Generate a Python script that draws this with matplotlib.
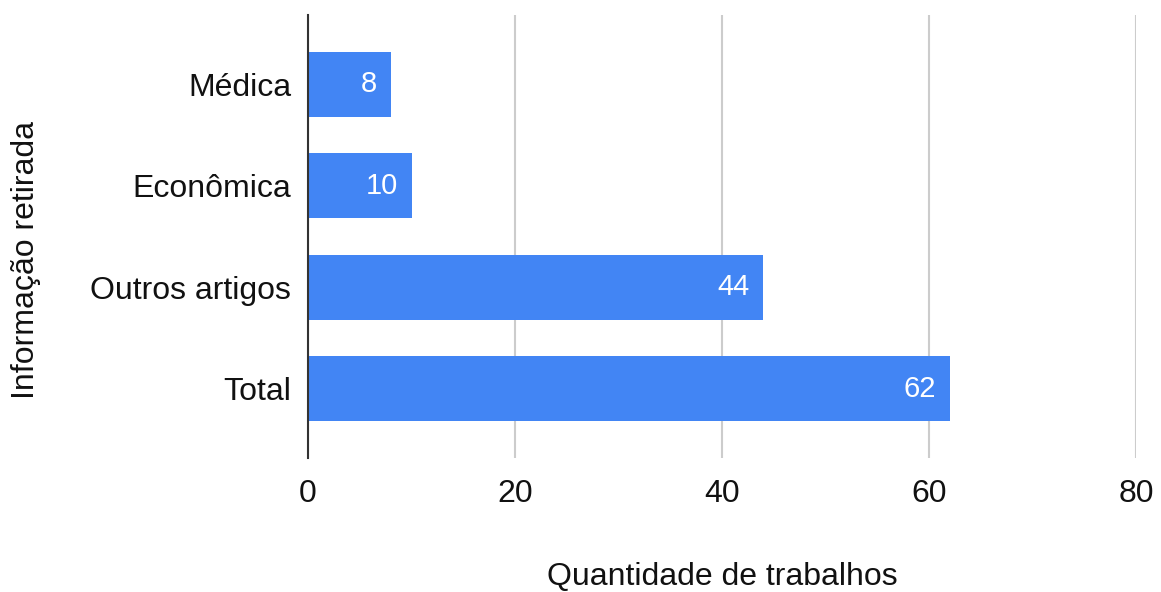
import matplotlib.pyplot as plt

# Number of works per type of information retrieved
categorias = ["Médica", "Econômica", "Outros artigos", "Total"]
quantidades = [8, 10, 44, 62]
xticks = [0, 20, 40, 60, 80]

plt.rcParams['font.family'] = ['Liberation Sans', 'DejaVu Sans']

fig = plt.figure(figsize=(11.61, 5.92), dpi=100)
ax = fig.add_axes([0.2653, 0.2264, 0.7132, 0.7483])

pos = list(range(len(categorias)))
ax.barh(pos, quantidades, height=0.64, color="#4285F4", zorder=3)

for y, v in zip(pos, quantidades):
    ax.annotate(str(v), xy=(v, y), xytext=(-10, 0), textcoords="offset points",
                ha="right", va="center", color="white", fontsize=21, zorder=4)

ax.set_xlim(0, 80)
ax.set_ylim(3.68, -0.68)
ax.set_xticks(xticks)
ax.set_yticks(pos)
ax.set_yticklabels(categorias)
ax.tick_params(axis="both", length=0, labelsize=23, colors="#111111")
ax.tick_params(axis="x", pad=15)
ax.tick_params(axis="y", pad=12)

ax.grid(axis="x", color="#cccccc", linewidth=1.5, zorder=0)
for s in ["top", "right", "bottom"]:
    ax.spines[s].set_visible(False)
ax.spines["left"].set_color("#333333")
ax.spines["left"].set_linewidth(1.5)
ax.spines["left"].set_zorder(5)

fig.text(0.622, 0.025, "Quantidade de trabalhos", ha="center", va="center",
         fontsize=23, color="#111111")
fig.text(0.022, 0.561, "Informação retirada", ha="center", va="center",
         rotation=90, fontsize=23, color="#111111")

fig.savefig("out.png", dpi=100, facecolor="white")
